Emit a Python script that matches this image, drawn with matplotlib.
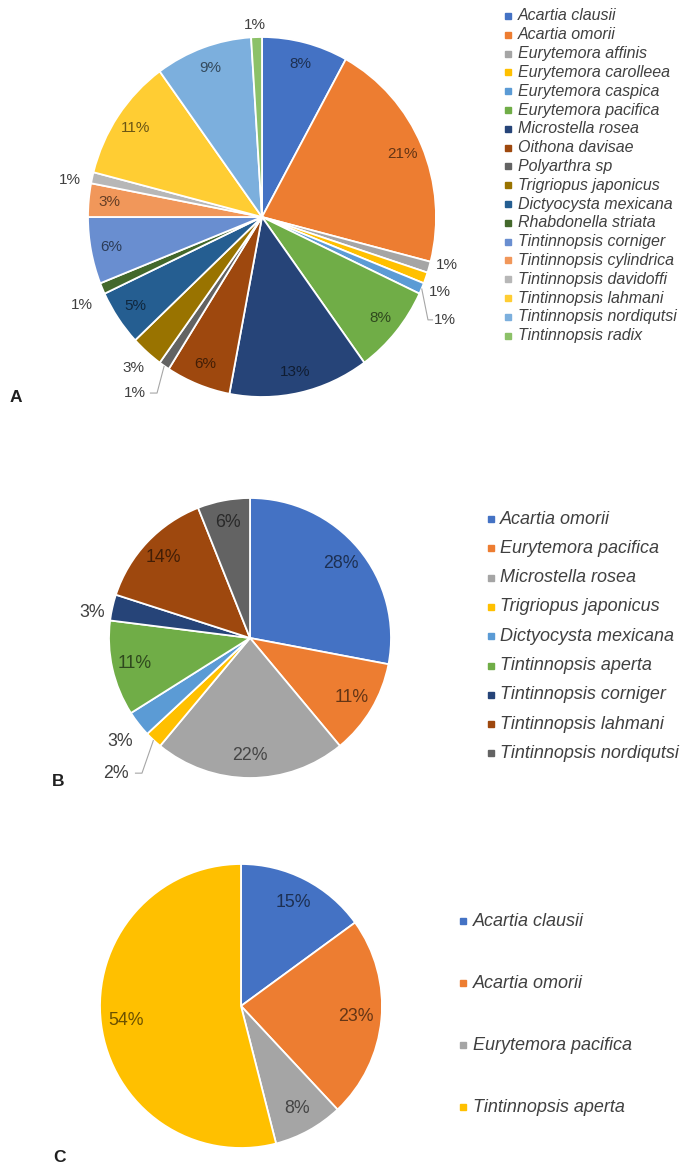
import numpy as np
import matplotlib
matplotlib.use("Agg")
import matplotlib.pyplot as plt
from matplotlib.lines import Line2D
from matplotlib.colors import to_rgb

plt.rcParams['font.family'] = ['Liberation Sans', 'DejaVu Sans']

# ---------------- data ----------------
species_a = ["Acartia clausii", "Acartia omorii", "Eurytemora affinis", "Eurytemora carolleea",
             "Eurytemora caspica", "Eurytemora pacifica", "Microstella rosea", "Oithona davisae",
             "Polyarthra sp", "Trigriopus japonicus", "Dictyocysta mexicana", "Rhabdonella striata",
             "Tintinnopsis corniger", "Tintinnopsis cylindrica", "Tintinnopsis davidoffi",
             "Tintinnopsis lahmani", "Tintinnopsis nordiqutsi", "Tintinnopsis radix"]
values_a = [8, 21, 1, 1, 1, 8, 13, 6, 1, 3, 5, 1, 6, 3, 1, 11, 9, 1]

species_b = ["Acartia omorii", "Eurytemora pacifica", "Microstella rosea", "Trigriopus japonicus",
             "Dictyocysta mexicana", "Tintinnopsis aperta", "Tintinnopsis corniger",
             "Tintinnopsis lahmani", "Tintinnopsis nordiqutsi"]
values_b = [28, 11, 22, 2, 3, 11, 3, 14, 6]

species_c = ["Acartia clausii", "Acartia omorii", "Eurytemora pacifica", "Tintinnopsis aperta"]
values_c = [15, 23, 8, 54]

panel_letters = ["A", "B", "C"]

# ---------------- styles ----------------
office = ["#4472C4", "#ED7D31", "#A5A5A5", "#FFC000", "#5B9BD5", "#70AD47",
          "#264478", "#9E480E", "#636363", "#997300", "#255E91", "#43682B",
          "#698ED0", "#F1975A", "#B7B7B7", "#FFCD33", "#7CAFDD", "#8CC168"]

W, H = 682, 1171
fig = plt.figure(figsize=(W / 100, H / 100), dpi=100)
TXT = "#404040"
LEAD = "#A6A6A6"


def darker(c, f=0.42):
    r, g, b = to_rgb(c)
    return (r * f, g * f, b * f)


def pie_panel(values, colors, cx, cy, rx, ry, r_in, fs, outside, L=1.5):
    ax = fig.add_axes([(cx - L * rx) / W, (H - cy - L * ry) / H, 2 * L * rx / W, 2 * L * ry / H])
    wedges, _ = ax.pie(values, colors=colors, startangle=90, counterclock=False, radius=1,
                       wedgeprops=dict(edgecolor="white", linewidth=1.3))
    ax.set_xlim(-L, L)
    ax.set_ylim(-L, L)
    ax.set_aspect("auto")
    ax.axis("off")
    for i, (w, v) in enumerate(zip(wedges, values)):
        mid = 90 - (w.theta1 + w.theta2) / 2.0   # clockwise from top
        lab = f"{v}%"
        if i in outside:
            spec = outside[i]
            a = np.radians(mid + spec["off"])
            x, y = spec["r"] * np.sin(a), spec["r"] * np.cos(a)
            if "lead" in spec:
                e1, e2 = spec["lead"]
                m = np.radians(mid)
                sx, sy = np.sin(m), np.cos(m)
                sgn = 1 if x > 0 else -1
                ax.plot([sx, x - sgn * e1, x - sgn * e2], [sy, y, y], color=LEAD, lw=0.8,
                        solid_capstyle="butt")
                ax.text(x, y, lab, ha="left" if sgn > 0 else "right", va="center",
                        fontsize=fs, color=TXT)
            else:
                ax.text(x, y, lab, ha="center", va="center", fontsize=fs, color=TXT)
        else:
            a = np.radians(mid)
            ax.text(r_in * np.sin(a), r_in * np.cos(a), lab, ha="center", va="center",
                    fontsize=fs, color=darker(colors[i]))
    return ax


def legend_block(names, colors, xm, xt, y0, dy, fs, ms):
    for i, (n, c) in enumerate(zip(names, colors)):
        y = 1 - (y0 + i * dy) / H
        fig.add_artist(Line2D([xm / W], [y], marker="s", markersize=ms, color=c,
                              linestyle="none", transform=fig.transFigure))
        fig.text(xt / W, y, n, ha="left", va="center", fontsize=fs, style="italic", color=TXT)


# ---------------- Panel A ----------------
cols_a = office[:len(values_a)]
out_a = {
    2: dict(off=-2.1, r=1.096),
    3: dict(off=2.4, r=1.105),
    4: dict(off=6.6, r=1.143, lead=(0.036, 0.007)),
    8: dict(off=0.1, r=1.184, lead=(0.064, 0.023)),
    9: dict(off=0.0, r=1.12),
    11: dict(off=-1.9, r=1.144),
    14: dict(off=-2.0, r=1.122),
    17: dict(off=-0.3, r=1.067),
}
pie_panel(values_a, cols_a, 262, 217, 174, 180, 0.88, 11, out_a)
legend_block(species_a, cols_a, 508, 518, 16, 18.8, 11.5, 3.8)

# ---------------- Panel B ----------------
cols_b = office[:len(values_b)]
out_b = {
    3: dict(off=-1.5, r=1.293, lead=(0.094, 0.044)),
    4: dict(off=-0.9, r=1.18),
    6: dict(off=-3.3, r=1.135),
}
pie_panel(values_b, cols_b, 250, 638, 141, 140, 0.84, 12.8, out_b)
legend_block(species_b, cols_b, 491, 500, 519, 29.3, 13.0, 4.3)

# ---------------- Panel C ----------------
cols_c = office[:len(values_c)]
pie_panel(values_c, cols_c, 241, 1006, 141, 142, 0.82, 12.8, {})
legend_block(species_c, cols_c, 463, 473, 921, 62.0, 13.0, 4.3)

# ---------------- panel letters ----------------
for letter, (x, y) in zip(panel_letters, [(16, 398), (58, 781), (59, 1157)]):
    fig.text(x / W, 1 - y / H, letter, ha="center", va="center", fontsize=12.5,
             fontweight="bold", color="#202020")

fig.savefig("out.png", dpi=100)
